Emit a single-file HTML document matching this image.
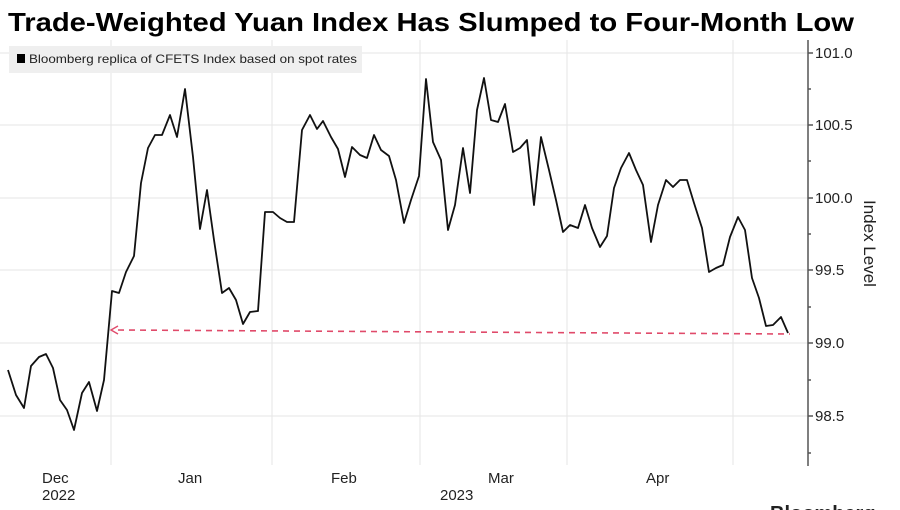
<!DOCTYPE html>
<html><head><meta charset="utf-8"><style>body{margin:0;background:#fff}svg{display:block}</style></head>
<body>
<svg width="900" height="510" viewBox="0 0 900 510" xmlns="http://www.w3.org/2000/svg" font-family="Liberation Sans, sans-serif">
<rect width="900" height="510" fill="#fff"/>
<text x="8" y="31" font-size="26" font-weight="bold" textLength="846" lengthAdjust="spacingAndGlyphs" fill="#000">Trade-Weighted Yuan Index Has Slumped to Four-Month Low</text>
<g stroke="#e6e6e6" stroke-width="1">
<line x1="0" y1="53" x2="808" y2="53"/><line x1="0" y1="125" x2="808" y2="125"/><line x1="0" y1="198" x2="808" y2="198"/><line x1="0" y1="270" x2="808" y2="270"/><line x1="0" y1="343" x2="808" y2="343"/><line x1="0" y1="416" x2="808" y2="416"/>
<line x1="111" y1="40" x2="111" y2="465"/><line x1="272" y1="40" x2="272" y2="465"/><line x1="420" y1="40" x2="420" y2="465"/><line x1="567" y1="40" x2="567" y2="465"/><line x1="733" y1="40" x2="733" y2="465"/>
</g>
<rect x="9" y="46" width="353" height="27" fill="#efefef"/>
<rect x="17" y="54" width="8" height="9" fill="#000"/>
<text x="29" y="63" font-size="12" textLength="328" lengthAdjust="spacingAndGlyphs" fill="#222">Bloomberg replica of CFETS Index based on spot rates</text>
<line x1="808" y1="40" x2="808" y2="466" stroke="#555" stroke-width="1.5"/>
<g stroke="#555" stroke-width="1.5">
<line x1="808" y1="53" x2="813" y2="53"/><line x1="808" y1="125" x2="813" y2="125"/><line x1="808" y1="198" x2="813" y2="198"/><line x1="808" y1="270" x2="813" y2="270"/><line x1="808" y1="343" x2="813" y2="343"/><line x1="808" y1="416" x2="813" y2="416"/>
<line x1="808" y1="89" x2="811" y2="89"/><line x1="808" y1="161" x2="811" y2="161"/><line x1="808" y1="234" x2="811" y2="234"/><line x1="808" y1="307" x2="811" y2="307"/><line x1="808" y1="380" x2="811" y2="380"/><line x1="808" y1="453" x2="811" y2="453"/>
</g>
<g font-size="15" fill="#222">
<text x="815" y="58">101.0</text><text x="815" y="130">100.5</text><text x="815" y="203">100.0</text><text x="815" y="275">99.5</text><text x="815" y="348">99.0</text><text x="815" y="421">98.5</text>
<text x="42" y="483">Dec</text><text x="42" y="500">2022</text><text x="178" y="483">Jan</text><text x="331" y="483">Feb</text><text x="488" y="483">Mar</text><text x="440" y="500">2023</text><text x="646" y="483">Apr</text>
</g>
<text transform="translate(864,200) rotate(90)" font-size="17" fill="#222">Index Level</text>
<text x="770" y="520" font-size="20" font-weight="bold" fill="#222">Bloomberg</text>
<line x1="118" y1="330" x2="790" y2="334" stroke="#e04a6a" stroke-width="1.6" stroke-dasharray="6,5"/>
<polyline points="118,326 111,330 118,334" fill="none" stroke="#e04a6a" stroke-width="1.4"/>
<polyline fill="none" stroke="#111" stroke-width="1.8" stroke-linejoin="round" points="8,370 16,395 24,408 31,366 39,357 46,354 53,368 60,400 67,410 74,430 82,393 89,382 97,411 104,380 112,291 119,293 126,272 134,256 141,183 148,148 155,135 162,135 170,115 177,137 185,89 193,157 200,229 207,190 214,240 222,293 229,288 236,300 243,324 250,312 258,311 265,212 273,212 280,218 287,222 294,222 302,130 310,115 317,129 323,121 331,137 338,149 345,177 352,147 360,155 367,158 374,135 381,150 389,156 396,180 404,223 411,200 419,176 426,79 433,142 441,160 448,230 455,205 463,148 470,193 477,110 484,78 491,120 498,122 505,104 513,152 520,148 527,140 534,205 541,137 549,170 556,200 563,232 570,225 578,228 585,205 592,228 600,247 607,236 614,188 621,168 629,153 636,170 643,185 651,242 658,205 666,180 673,187 680,180 687,180 694,203 702,228 709,272 716,268 723,265 730,237 738,217 745,230 752,278 759,298 766,326 773,325 781,317 788,333"/>
</svg>
</body></html>
